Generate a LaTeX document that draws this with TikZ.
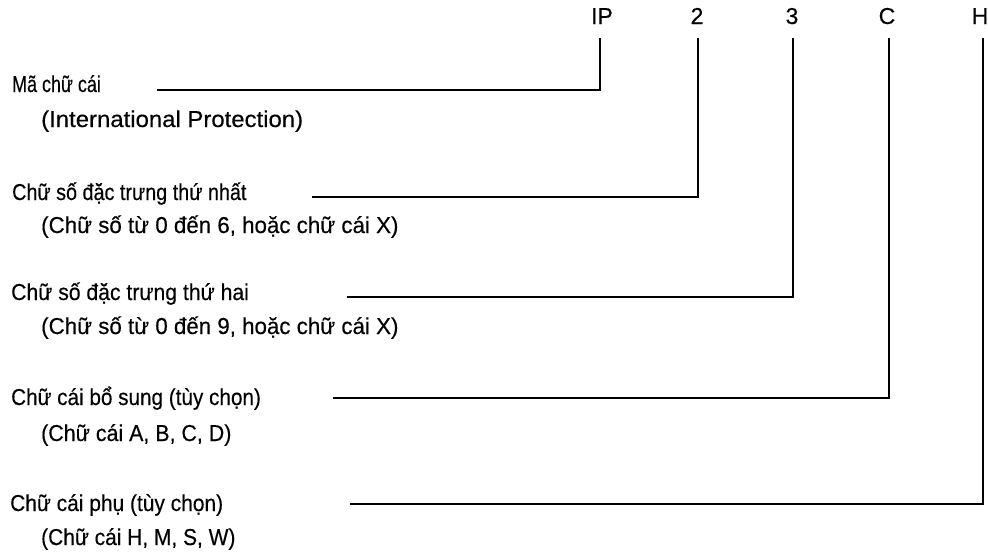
\documentclass[tikz,border=0pt]{standalone}
\usepackage{fontspec}
\setmainfont[FakeBold=0.35]{Liberation Sans}
\begin{document}
\begin{tikzpicture}[x=1pt,y=-1pt,
  lbl/.style={font=\fontsize{23}{27}\selectfont, inner sep=0pt, anchor=base west, transform shape},
  code/.style={font=\fontsize{23}{27}\selectfont, inner sep=0pt, anchor=base, text depth=0pt},
  conn/.style={line width=1.7pt, line join=miter}]
\useasboundingbox (0,0) rectangle (988,552);
% code letters
\node[code] (ip) at (602,24) {IP};
\node[code] (d2) at (697,24) {2};
\node[code] (d3) at (792,24) {3};
\node[code] (cc) at (887,24) {C};
\node[code] (hh) at (980,24) {H};
% labels
\node[lbl, xscale=0.78] (m1) at (12,92) {Mã chữ cái};
\node[lbl, xscale=1.04] (n1) at (41,127) {(International Protection)};
\node[lbl, xscale=0.86] (m2) at (12,200) {Chữ số đặc trưng thứ nhất};
\node[lbl, xscale=0.97] (n2) at (41,233) {(Chữ số từ 0 đến 6, hoặc chữ cái X)};
\node[lbl, xscale=0.92] (m3) at (11,300) {Chữ số đặc trưng thứ hai};
\node[lbl, xscale=0.97] (n3) at (41,334) {(Chữ số từ 0 đến 9, hoặc chữ cái X)};
\node[lbl, xscale=0.9] (m4) at (11,405) {Chữ cái bổ sung (tùy chọn)};
\node[lbl, xscale=0.93] (n4) at (41,441) {(Chữ cái A, B, C, D)};
\node[lbl, xscale=0.91] (m5) at (10,511) {Chữ cái phụ (tùy chọn)};
\node[lbl, xscale=0.91] (n5) at (41,545) {(Chữ cái H, M, S, W)};
% line starts
\coordinate (s1) at (157,90);
\coordinate (s2) at (312,197);
\coordinate (s3) at (347,297);
\coordinate (s4) at (333,398);
\coordinate (s5) at (350,504);
% connectors
\draw[conn] (s1) -| ([xshift=-2pt,yshift=-14pt]ip.south);
\draw[conn] (s2) -| ([xshift=1pt,yshift=-14pt]d2.south);
\draw[conn] (s3) -| ([xshift=1pt,yshift=-14pt]d3.south);
\draw[conn] (s4) -| ([xshift=2pt,yshift=-14pt]cc.south);
\draw[conn] (s5) -| ([xshift=3pt,yshift=-14pt]hh.south);
\end{tikzpicture}
\end{document}
